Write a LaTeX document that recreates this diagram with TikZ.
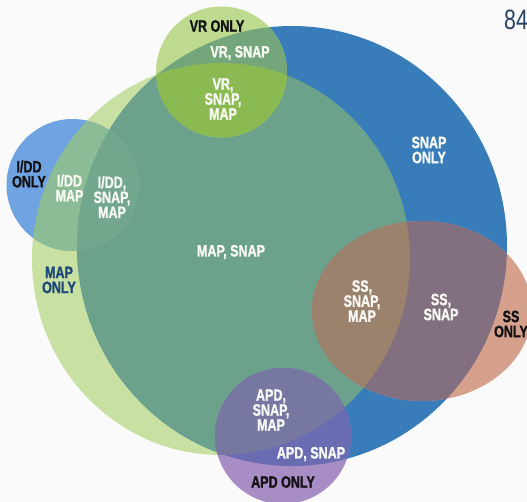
\documentclass[tikz,border=0pt]{standalone}
\usepackage{fontspec}
\setmainfont{Liberation Sans}[FakeStretch=0.76,BoldFeatures={FakeBold=1.2}]
\definecolor{bgc}{RGB}{250,250,250}
\definecolor{mapg}{RGB}{200,224,162}
\definecolor{snapb}{RGB}{56,125,185}
\definecolor{mapsnap}{RGB}{108,162,140}
\definecolor{vronly}{RGB}{190,218,142}
\definecolor{vrsnap}{RGB}{116,166,124}
\definecolor{vrsnapmap}{RGB}{140,186,82}
\definecolor{iddonly}{RGB}{112,163,225}
\definecolor{iddmap}{RGB}{140,188,150}
\definecolor{iddsnapmap}{RGB}{114,167,142}
\definecolor{ssonly}{RGB}{213,160,140}
\definecolor{sssnap}{RGB}{130,112,128}
\definecolor{sssnapmap}{RGB}{155,130,108}
\definecolor{apdonly}{RGB}{168,140,196}
\definecolor{apdsnap}{RGB}{106,108,178}
\definecolor{apdsnapmap}{RGB}{118,120,162}
\definecolor{txtw}{RGB}{248,248,244}
\definecolor{txtk}{RGB}{18,18,20}
\definecolor{txtb}{RGB}{28,72,122}
\definecolor{pagenum}{RGB}{36,66,96}
\begin{document}
\begin{tikzpicture}[x=1pt,y=-1pt,line join=round,
  lbl/.style={align=center,inner sep=0pt,text=txtw,font=\bfseries\fontsize{16.5}{15}\selectfont},
  blk/.style={lbl,text=txtk},
  mapblue/.style={lbl,text=txtb}]
\def\mapc{(221,259) ellipse [x radius=189, y radius=196]}
\def\snapc{(292,246) ellipse [x radius=215, y radius=220]}
\def\vrc{(221.5,72) circle [radius=65.5]}
\def\iddc{(72.5,185) circle [radius=66]}
\def\ssc{(422,311) ellipse [x radius=110, y radius=90]}
\def\apdc{(283,436) circle [radius=68]}
\useasboundingbox (0,0) rectangle (527,502);
\clip (0,0) rectangle (527,502);
\fill[bgc] (0,0) rectangle (527,502);
% MAP and SNAP
\fill[mapg] \mapc;
\fill[snapb] \snapc;
\begin{scope} \clip \mapc; \fill[mapsnap] \snapc; \end{scope}
% VR
\fill[vronly] \vrc;
\begin{scope} \clip \vrc; \fill[vrsnap] \snapc; \clip \snapc; \fill[vrsnapmap] \mapc; \end{scope}
% I/DD
\fill[iddonly] \iddc;
\begin{scope} \clip \iddc; \fill[iddmap] \mapc; \clip \mapc; \fill[iddsnapmap] \snapc; \end{scope}
% SS
\fill[ssonly] \ssc;
\begin{scope} \clip \ssc; \fill[sssnap] \snapc; \clip \snapc; \fill[sssnapmap] \mapc; \end{scope}
% APD
\fill[apdonly] \apdc;
\begin{scope} \clip \apdc; \fill[apdsnap] \snapc; \fill[apdsnapmap] \mapc; \end{scope}
% labels
\node[blk] (vronly) at (217,26) {VR ONLY};
\node[lbl] (vrsnap) at (240,53) {VR, SNAP};
\node[lbl] (vrsnapmap) at (223,99) {VR,\\SNAP,\\MAP};
\node[lbl] (snaponly) at (429,150) {SNAP\\ONLY};
\node[blk] (iddonly) at (29,174) {I/DD\\ONLY};
\node[lbl] (iddmap) at (69.5,188) {I/DD\\MAP};
\node[lbl] (iddsnapmap) at (112,197) {I/DD,\\SNAP,\\MAP};
\node[lbl] (mapsnap) at (231,252) {MAP, SNAP};
\node[mapblue] (maponly) at (59,280) {MAP\\ONLY};
\node[lbl] (sssnapmap) at (362,301) {SS,\\SNAP,\\MAP};
\node[lbl] (sssnap) at (441,307) {SS,\\SNAP};
\node[blk] (ssonly) at (511,324) {SS\\ONLY};
\node[lbl] (apdsnapmap) at (271,410) {APD,\\SNAP,\\MAP};
\node[lbl] (apdsnap) at (311,454) {APD, SNAP};
\node[blk] (apdonly) at (283,482) {APD ONLY};
\node[anchor=base west,inner sep=0pt,text=pagenum,font=\fontsize{28}{28}\selectfont] (pnum) at (504,30) {84};
\end{tikzpicture}
\end{document}
